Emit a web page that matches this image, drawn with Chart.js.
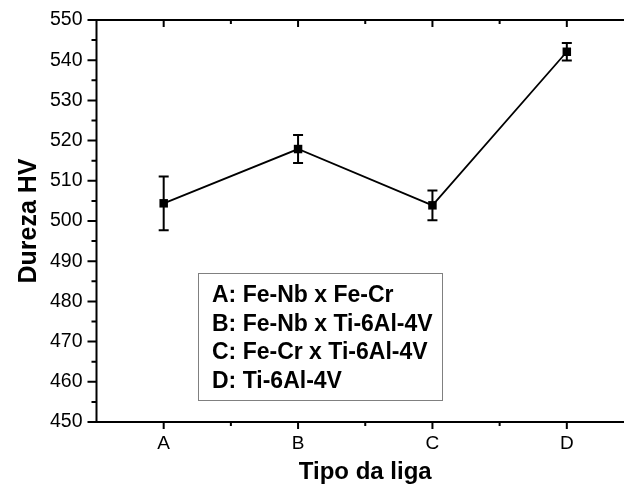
<!DOCTYPE html>
<html>
<head>
<meta charset="utf-8">
<script src="https://cdn.jsdelivr.net/npm/chart.js@4.4.1/dist/chart.umd.min.js"></script>
<style>
html,body{margin:0;padding:0;background:#fff;overflow:hidden;width:624px;height:495px;}
#wrap{position:relative;width:640px;height:495px;}
</style>
</head>
<body>
<div id="wrap"><canvas id="c"></canvas></div>
<script>
// ---- data ----
const categories = ['A', 'B', 'C', 'D'];
const hardness = [504.4, 517.9, 503.9, 542.1];
const hardnessErr = [6.7, 3.5, 3.7, 2.2];
const yTicks = [450, 460, 470, 480, 490, 500, 510, 520, 530, 540, 550];
const legendLines = ['A: Fe-Nb x Fe-Cr', 'B: Fe-Nb x Ti-6Al-4V', 'C: Fe-Cr x Ti-6Al-4V', 'D: Ti-6Al-4V'];

const FONT = '"Liberation Sans", Arial, sans-serif';

const frame = {
  id: 'frame',
  afterDatasetsDraw(chart) {
    const {ctx, chartArea: a, scales: {x, y}} = chart;
    ctx.save();
    ctx.strokeStyle = '#000';
    ctx.lineCap = 'butt';
    // error bars
    ctx.lineWidth = 2;
    hardness.forEach((v, i) => {
      const px = x.getPixelForValue(i + 1);
      const pt = y.getPixelForValue(v + hardnessErr[i]);
      const pb = y.getPixelForValue(v - hardnessErr[i]);
      ctx.beginPath();
      ctx.moveTo(px, pt); ctx.lineTo(px, pb);
      ctx.moveTo(px - 5, pt); ctx.lineTo(px + 5, pt);
      ctx.moveTo(px - 5, pb); ctx.lineTo(px + 5, pb);
      ctx.stroke();
    });
    // axes lines
    ctx.lineWidth = 2;
    ctx.beginPath();
    ctx.moveTo(a.left, a.top - 1); ctx.lineTo(a.left, a.bottom + 1);
    ctx.moveTo(a.left - 1, a.bottom); ctx.lineTo(a.right, a.bottom);
    ctx.moveTo(a.left - 1, a.top); ctx.lineTo(a.right, a.top);
    ctx.moveTo(a.right, a.top); ctx.lineTo(a.right, a.bottom);
    ctx.stroke();
    // left ticks
    ctx.beginPath();
    for (let v = 450; v <= 550; v += 5) {
      const py = y.getPixelForValue(v);
      const len = (v % 10 === 0) ? 9 : 5;
      ctx.moveTo(a.left, py); ctx.lineTo(a.left - len, py);
    }
    // bottom and top ticks
    for (let v = 1; v <= 4.5; v += 0.5) {
      const px = x.getPixelForValue(v);
      const len = (v % 1 === 0) ? 7 : 4;
      ctx.moveTo(px, a.bottom); ctx.lineTo(px, a.bottom + len);
      ctx.moveTo(px, a.top); ctx.lineTo(px, a.top + len);
    }
    ctx.stroke();
    // text box
    const bx = 198, by = 273, bw = 244, bh = 127;
    ctx.lineWidth = 1;
    ctx.strokeStyle = '#808080';
    ctx.strokeRect(bx + 0.5, by + 0.5, bw, bh);
    ctx.fillStyle = '#000';
    ctx.font = 'bold 23px ' + FONT;
    ctx.textBaseline = 'middle';
    ctx.textAlign = 'left';
    legendLines.forEach((t, i) => {
      ctx.fillText(t, bx + 14, by + 23 + i * 28.5);
    });
    ctx.restore();
  }
};

new Chart(document.getElementById('c'), {
  type: 'line',
  data: {
    datasets: [{
      data: hardness.map((v, i) => ({x: i + 1, y: v})),
      borderColor: '#000',
      backgroundColor: '#000',
      borderWidth: 1.8,
      pointStyle: 'rect',
      pointRadius: 6,
      pointBorderWidth: 0,
      tension: 0,
      clip: false
    }]
  },
  options: {
    responsive: true,
    maintainAspectRatio: false,
    animation: false,
    devicePixelRatio: 1,
    layout: {padding: {top: 20, right: 6, left: 0, bottom: 0}},
    plugins: {legend: {display: false}, tooltip: {enabled: false}},
    scales: {
      x: {
        type: 'linear',
        min: 0.5, max: 4.5,
        afterBuildTicks: (s) => { s.ticks = categories.map((c, i) => ({value: i + 1})); },
        ticks: {
          callback: (v) => categories[v - 1] ?? '',
          color: '#000',
          font: {family: FONT, size: 19},
          padding: 10,
          maxRotation: 0,
          autoSkip: false
        },
        grid: {display: false, drawTicks: false},
        border: {display: false},
        title: {
          display: true, text: 'Tipo da liga', color: '#000',
          font: {family: FONT, size: 24, weight: 'bold'},
          padding: {top: 0, bottom: 8}
        },
        afterFit: (s) => { s.height = 73; s.paddingLeft = 0; s.paddingRight = 0; }
      },
      y: {
        min: 450, max: 550,
        afterBuildTicks: (s) => { s.ticks = yTicks.map(v => ({value: v})); },
        ticks: {
          color: '#000',
          font: {family: FONT, size: 19.5},
          padding: 14
        },
        grid: {display: false, drawTicks: false},
        border: {display: false},
        title: {
          display: true, text: 'Dureza HV', color: '#000',
          font: {family: FONT, size: 25, weight: 'bold'},
          padding: {top: 14, bottom: 14}
        },
        afterFit: (s) => { s.width = 96.5; s.paddingTop = 0; s.paddingBottom = 0; }
      }
    }
  },
  plugins: [frame]
});
</script>
</body>
</html>
